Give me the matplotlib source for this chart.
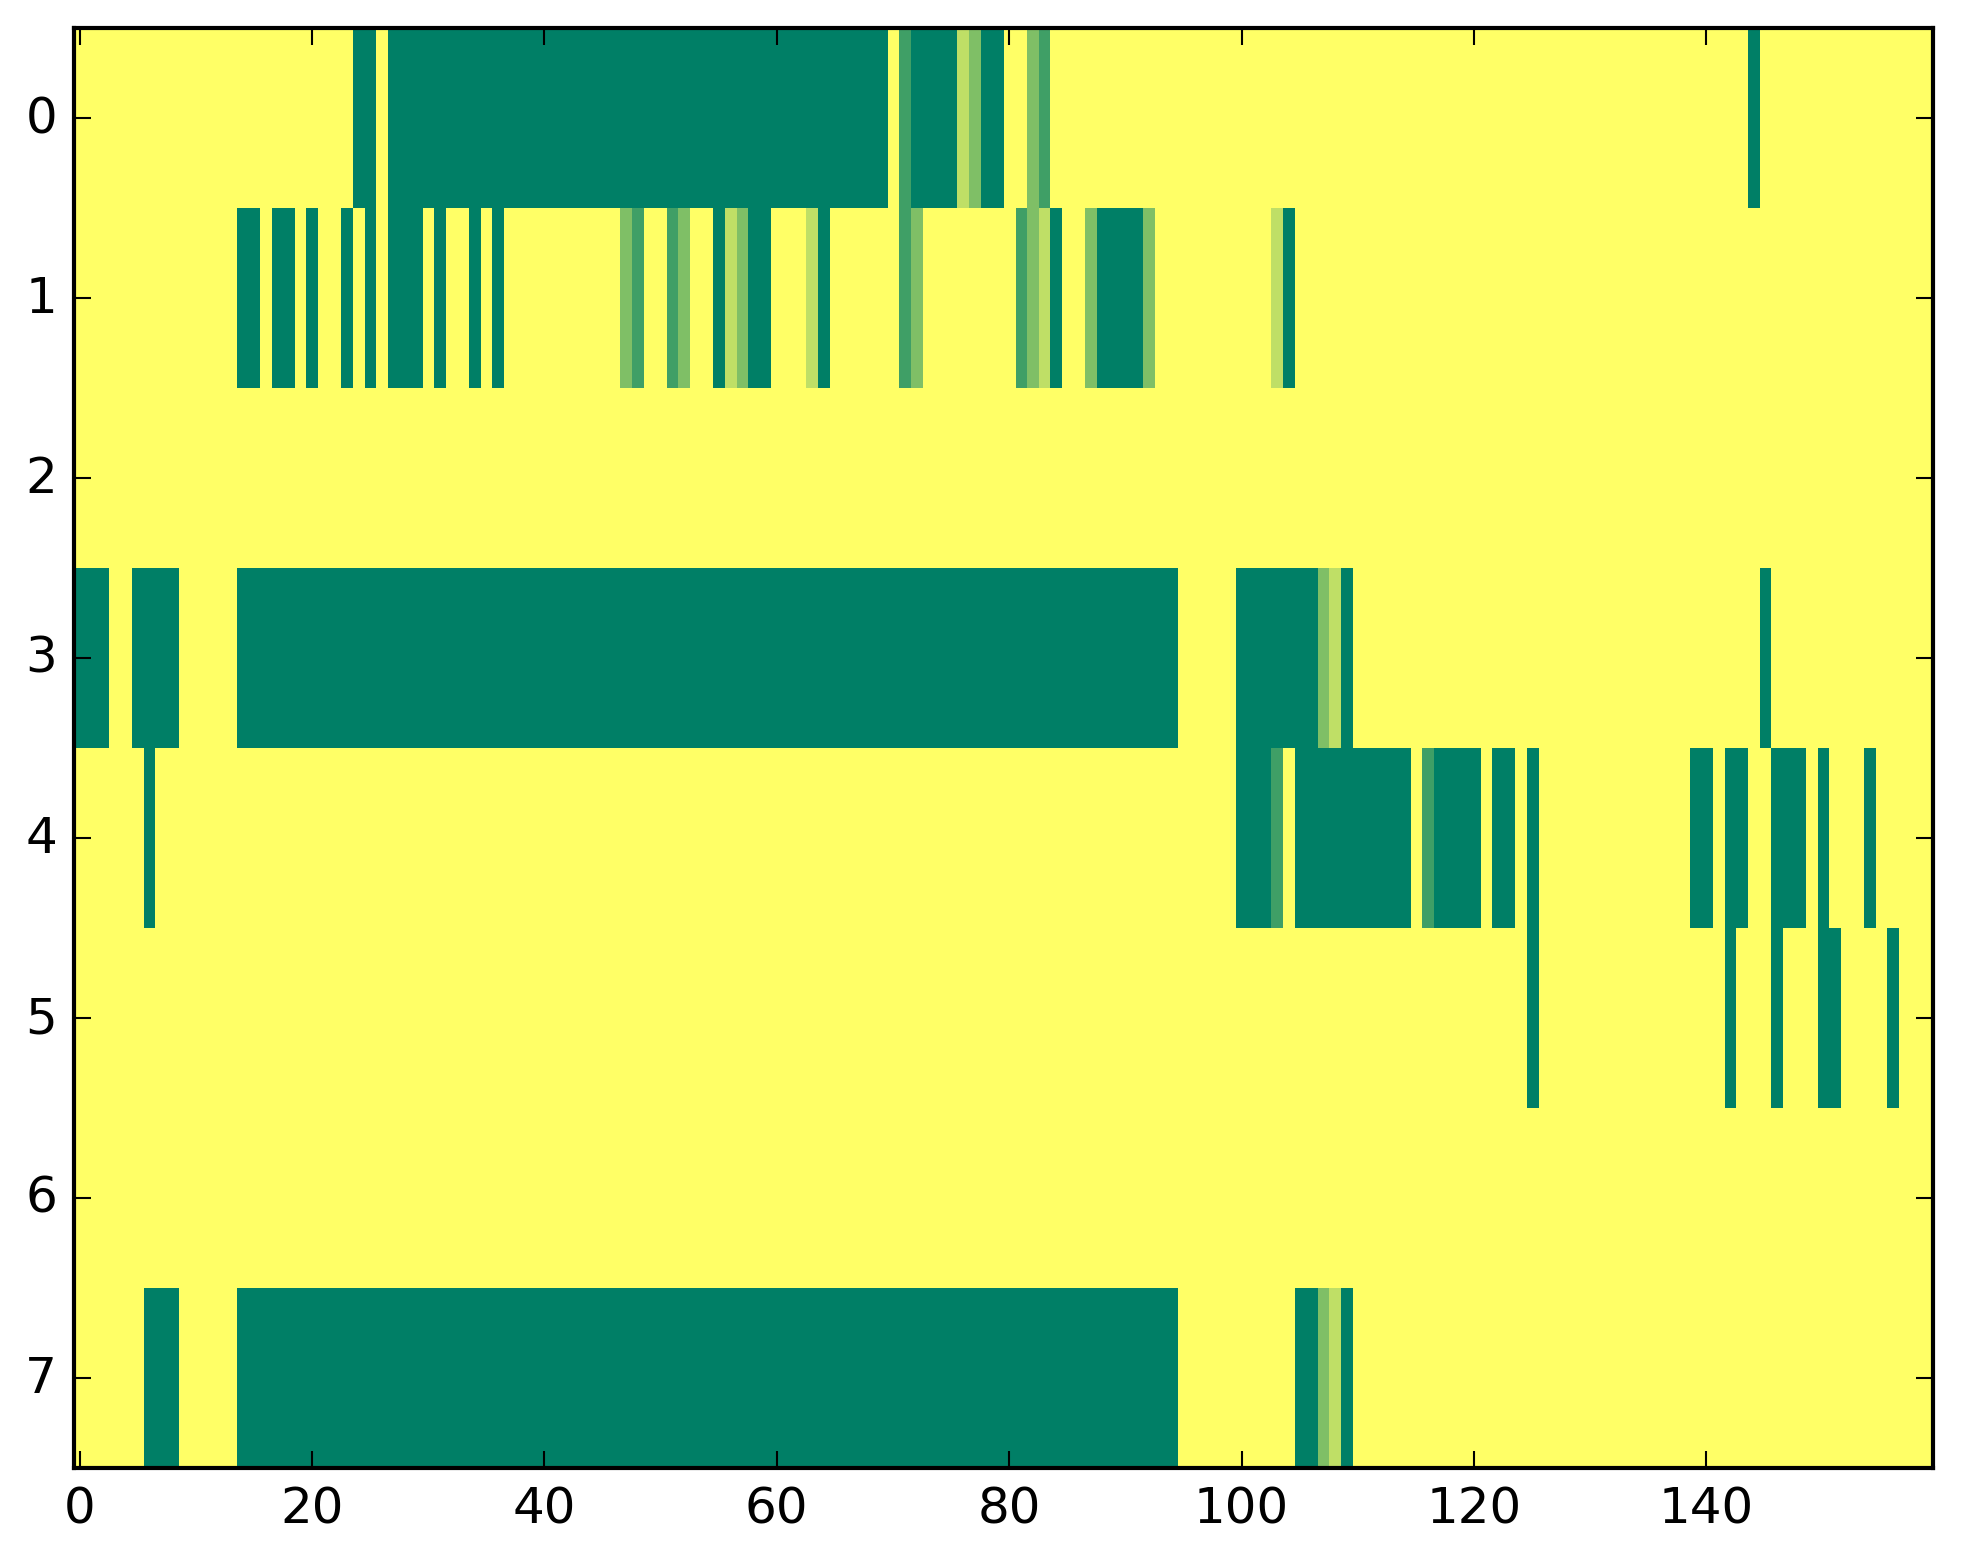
import numpy as np
import matplotlib
matplotlib.use("Agg")
import matplotlib.pyplot as plt

# Image size: 8 rows x 160 columns, values in [0, 1]
n_rows = 8
n_cols = 160

# Non-zero runs per row: (first column, last column, value)
row0 = [(24, 25, 1.0), (27, 69, 1.0), (71, 71, 0.75), (72, 75, 1.0), (76, 76, 0.25),
        (77, 77, 0.5), (78, 79, 1.0), (82, 82, 0.5), (83, 83, 0.75), (144, 144, 1.0)]
row1 = [(14, 15, 1.0), (17, 18, 1.0), (20, 20, 1.0), (23, 23, 1.0), (25, 25, 1.0),
        (27, 29, 1.0), (31, 31, 1.0), (34, 34, 1.0), (36, 36, 1.0), (47, 47, 0.5),
        (48, 48, 0.75), (51, 51, 0.75), (52, 52, 0.5), (55, 55, 1.0), (56, 56, 0.25),
        (57, 57, 0.5), (58, 59, 1.0), (63, 63, 0.25), (64, 64, 1.0), (71, 71, 0.75),
        (72, 72, 0.5), (81, 81, 0.75), (82, 82, 0.5), (83, 83, 0.25), (84, 84, 1.0),
        (87, 87, 0.5), (88, 91, 1.0), (92, 92, 0.5), (103, 103, 0.25), (104, 104, 1.0)]
row2 = []
row3 = [(0, 2, 1.0), (5, 8, 1.0), (14, 94, 1.0), (100, 106, 1.0), (107, 107, 0.5),
        (108, 108, 0.25), (109, 109, 1.0), (145, 145, 1.0)]
row4 = [(6, 6, 1.0), (100, 102, 1.0), (103, 103, 0.75), (105, 114, 1.0), (116, 116, 0.75),
        (117, 120, 1.0), (122, 123, 1.0), (125, 125, 1.0), (139, 140, 1.0), (142, 143, 1.0),
        (146, 148, 1.0), (150, 150, 1.0), (154, 154, 1.0)]
row5 = [(125, 125, 1.0), (142, 142, 1.0), (146, 146, 1.0), (150, 151, 1.0), (156, 156, 1.0)]
row6 = []
row7 = [(6, 8, 1.0), (14, 94, 1.0), (105, 106, 1.0), (107, 107, 0.5), (108, 108, 0.25),
        (109, 109, 1.0)]

rows = [row0, row1, row2, row3, row4, row5, row6, row7]

data = np.zeros((n_rows, n_cols))
for r, runs in enumerate(rows):
    for a, b, v in runs:
        data[r, a:b + 1] = v

x_ticks = [0, 20, 40, 60, 80, 100, 120, 140]
y_ticks = [0, 1, 2, 3, 4, 5, 6, 7]

plt.style.use("classic")
fig = plt.figure(figsize=(1963 / 300, 1564 / 300), dpi=300)
fig.patch.set_facecolor("white")
ax = fig.add_axes([73.7 / 1963, 1 - 1469 / 1564, (1933 - 73.7) / 1963, (1469 - 29) / 1564])
ax.imshow(data, cmap="summer_r", vmin=0, vmax=1, aspect="auto", interpolation="nearest")
ax.set_xticks(x_ticks)
ax.set_yticks(y_ticks)
fig.savefig("out.png", dpi=300, facecolor="white")
